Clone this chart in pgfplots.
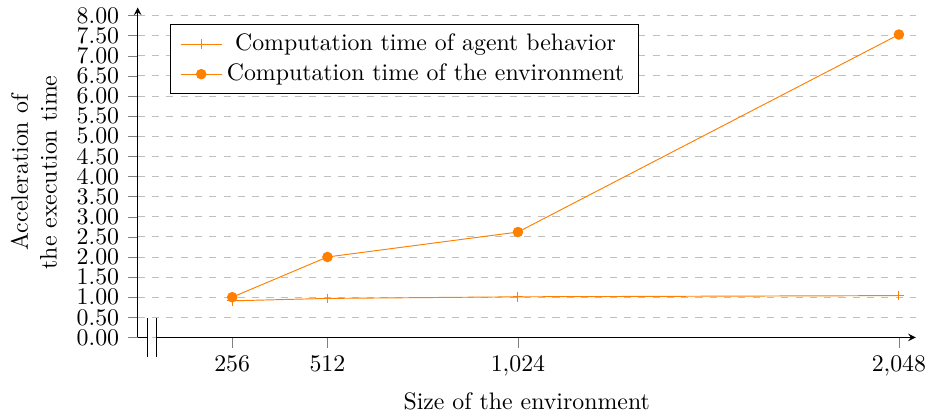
\documentclass[border=0pt]{standalone}
\usepackage{pgfplots}
\pgfplotsset{compat=1.18}
\begin{document}
\begin{tikzpicture}
\begin{axis}[
  scale only axis, width=326.4pt, height=138.4pt,
  axis lines=left,
  tick align=outside,
  axis x discontinuity=parallel,
  xmin=2, xmax=2093, ymin=0, ymax=8.2,
  xtick={256,512,1024,2048},
  ytick={0,0.5,...,8},
  yticklabel style={/pgf/number format/fixed, /pgf/number format/fixed zerofill, /pgf/number format/precision=2},
  ymajorgrids, grid style={dashed, gray!50},
  xlabel={Size of the environment},
  ylabel style={yshift=-2pt},
  ylabel={\begin{tabular}{@{}c@{}}Acceleration of\\the execution time\end{tabular}},
  legend style={at={(0.042,0.95)}, anchor=north west, inner xsep=4pt},
]
\addplot[color=orange, mark=+, mark options={color=orange}] coordinates {(256,0.91) (512,0.97) (1024,1.01) (2048,1.04)};
\addlegendentry{Computation time of agent behavior}
\addplot[color=orange, mark=*] coordinates {(256,1.0) (512,2.0) (1024,2.62) (2048,7.53)};
\addlegendentry{Computation time of the environment}
\end{axis}
\end{tikzpicture}
\end{document}
